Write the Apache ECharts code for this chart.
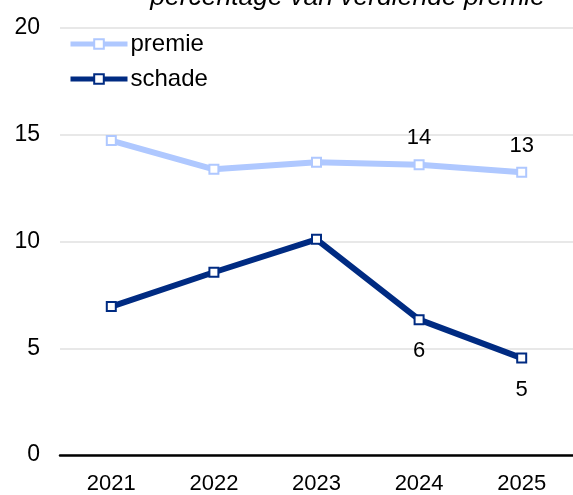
<!DOCTYPE html>
<html>
<head>
<meta charset="utf-8">
<script src="https://cdn.jsdelivr.net/npm/echarts@6/dist/echarts.min.js"></script>
<style>html,body{margin:0;padding:0;background:#fff;}#c{width:573px;height:495px;}</style>
</head>
<body>
<div id="c"></div>
<script>
const categories = ['2021', '2022', '2023', '2024', '2025'];
const premie = [14.73, 13.38, 13.71, 13.6, 13.24];
const schade = [6.95, 8.56, 10.1, 6.34, 4.54];
const labelled = [3, 4];
const titleText = 'percentage van verdiende premie';

const chart = echarts.init(document.getElementById('c'), null, {renderer: 'canvas'});
const font = '"Liberation Sans", Arial, sans-serif';
function lbl(pos, dist) {
  return {
    show: true, position: pos, distance: dist,
    fontFamily: font, fontSize: 22, color: '#000',
    formatter: p => labelled.includes(p.dataIndex) ? String(Math.round(p.value)) : ''
  };
}
chart.setOption({
  animation: false,
  title: {
    text: titleText, right: 28, top: -16, padding: 0,
    textStyle: {fontFamily: font, fontStyle: 'italic', fontWeight: 'normal', fontSize: 26.5, color: '#000'}
  },
  legend: {
    orient: 'vertical', left: 68, top: 32, padding: 0, itemGap: 11, itemWidth: 57, itemHeight: 12,
    lineStyle: {width: 5},
    textStyle: {fontFamily: font, fontSize: 24, color: '#000', padding: [0, 0, 0, -2]},
    data: ['premie', 'schade']
  },
  grid: {left: 60, top: 28, height: 428, width: 525, containLabel: false},
  xAxis: {
    type: 'category', data: categories, boundaryGap: true,
    axisLine: {show: true, lineStyle: {color: '#000', width: 2.5}},
    axisTick: {show: false},
    axisLabel: {fontFamily: font, fontSize: 22, color: '#000', margin: 18}
  },
  yAxis: {
    type: 'value', min: 0, max: 20, interval: 5,
    axisLine: {show: false}, axisTick: {show: false},
    splitLine: {lineStyle: {color: '#e0e0e0', width: 1.5}},
    axisLabel: {fontFamily: font, fontSize: 23, color: '#000', margin: 20}
  },
  series: [
    {
      name: 'premie', type: 'line', data: premie,
      symbol: 'rect', symbolSize: 9,
      lineStyle: {color: '#afc8ff', width: 6},
      itemStyle: {color: '#fff', borderColor: '#afc8ff', borderWidth: 2},
      label: lbl('top', 10)
    },
    {
      name: 'schade', type: 'line', data: schade,
      symbol: 'rect', symbolSize: 9,
      lineStyle: {color: '#002b82', width: 6},
      itemStyle: {color: '#fff', borderColor: '#002b82', borderWidth: 2},
      label: lbl('bottom', 15)
    }
  ]
});
</script>
</body>
</html>
